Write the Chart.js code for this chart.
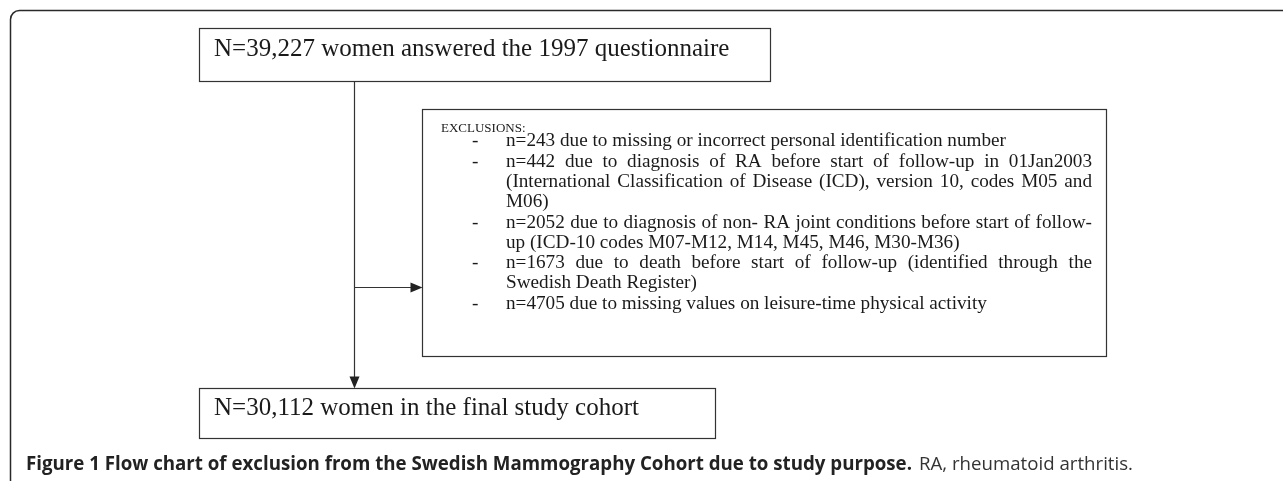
<!DOCTYPE html>
<html>
<head>
<meta charset="utf-8">
<script src="https://cdn.jsdelivr.net/npm/chart.js@4.4.0/dist/chart.umd.min.js"></script>
<style>
html,body{margin:0;padding:0;background:#fff;}
#wrap{width:1283px;height:481px;}
</style>
</head>
<body>
<div id="wrap"><canvas id="c" width="1283" height="481"></canvas></div>
<script>
// ---- data ----
const totals = [39227, 30112];
const totalLabels = ["women answered the 1997 questionnaire", "women in the final study cohort"];
const exclusionHeader = "EXCLUSIONS:";
const exclusionCounts = [243, 442, 2052, 1673, 4705];
const exclusionReasons = [
  ["due to missing or incorrect personal identification number"],
  ["due to diagnosis of RA before start of follow-up in 01Jan2003",
   "(International Classification of Disease (ICD), version 10, codes M05 and",
   "M06)"],
  ["due to diagnosis of non- RA joint conditions before start of follow-",
   "up (ICD-10 codes M07-M12, M14, M45, M46, M30-M36)"],
  ["due to death before start of follow-up (identified through the",
   "Swedish Death Register)"],
  ["due to missing values on leisure-time physical activity"]
];
const captionBold = "Figure 1 Flow chart of exclusion from the Swedish Mammography Cohort due to study purpose.";
const captionRest = "RA, rheumatoid arthritis.";

function fmt(n){ return n.toLocaleString('en-US'); }

// ---- layout (positions in the chart's own coordinate space) ----
const layout = {
  frame: {x0: 10.5, y0: 10.5, x1: 1320, y1: 500, r: 9},
  top:   {x0: 199.5, y0: 28.5, x1: 770.5, y1: 81.5, tx: 214, ty: 56},
  excl:  {x0: 422.5, y0: 109.5, x1: 1106.5, y1: 356.5, hx: 441, hy: 132, dx: 472, tx: 506, tr: 1092},
  bottom:{x0: 199.5, y0: 388.5, x1: 715.5, y1: 438.5, tx: 214, ty: 415},
  trunkX: 354.5, branchY: 287.5,
  lineYs: [146, 167, 187, 207, 228, 248, 268, 288, 309],
  caption: {x: 26, y: 470, boldW: 886, restX: 919, restW: 214}
};

const flowPlugin = {
  id: 'flow',
  afterDraw(chart){
    const ctx = chart.ctx;
    const sx = chart.scales.x, sy = chart.scales.y;
    const X = v => sx.getPixelForValue(v);
    const Y = v => sy.getPixelForValue(v);
    ctx.save();
    // frame
    const f = layout.frame;
    ctx.strokeStyle = '#2a2a2a';
    ctx.lineWidth = 1.5;
    ctx.beginPath();
    ctx.roundRect(X(f.x0), Y(f.y0), X(f.x1)-X(f.x0), Y(f.y1)-Y(f.y0), f.r);
    ctx.stroke();

    ctx.strokeStyle = '#333';
    ctx.lineWidth = 1.2;
    const box = b => { ctx.strokeRect(X(b.x0), Y(b.y0), X(b.x1)-X(b.x0), Y(b.y1)-Y(b.y0)); };
    box(layout.top); box(layout.excl); box(layout.bottom);

    // connectors
    const tx = X(layout.trunkX);
    ctx.beginPath();
    ctx.moveTo(tx, Y(layout.top.y1));
    ctx.lineTo(tx, Y(layout.bottom.y0) - 10);
    ctx.moveTo(tx, Y(layout.branchY));
    ctx.lineTo(X(layout.excl.x0) - 10, Y(layout.branchY));
    ctx.stroke();
    ctx.fillStyle = '#222';
    // down arrow head
    ctx.beginPath();
    ctx.moveTo(tx, Y(layout.bottom.y0));
    ctx.lineTo(tx - 5, Y(layout.bottom.y0) - 12);
    ctx.lineTo(tx + 5, Y(layout.bottom.y0) - 12);
    ctx.closePath(); ctx.fill();
    // right arrow head
    const ax = X(layout.excl.x0), ay = Y(layout.branchY);
    ctx.beginPath();
    ctx.moveTo(ax, ay);
    ctx.lineTo(ax - 12, ay - 5);
    ctx.lineTo(ax - 12, ay + 5);
    ctx.closePath(); ctx.fill();

    // texts
    ctx.fillStyle = '#1a1a1a';
    ctx.textBaseline = 'alphabetic';
    ctx.font = '25px "Liberation Serif", "Times New Roman", serif';
    ctx.fillText('N=' + fmt(totals[0]) + ' ' + totalLabels[0], X(layout.top.tx), Y(layout.top.ty));
    ctx.fillText('N=' + fmt(totals[1]) + ' ' + totalLabels[1], X(layout.bottom.tx), Y(layout.bottom.ty));

    const e = layout.excl;
    ctx.font = '13px "Liberation Serif", "Times New Roman", serif';
    ctx.fillText(exclusionHeader, X(e.hx), Y(e.hy));
    ctx.font = '19.2px "Liberation Serif", "Times New Roman", serif';
    let li = 0;
    exclusionReasons.forEach((lines, i) => {
      lines.forEach((ln, j) => {
        const text = j === 0 ? ('n=' + exclusionCounts[i] + ' ' + ln) : ln;
        const y = Y(layout.lineYs[li]);
        if (j === 0) ctx.fillText('-', X(e.dx), y);
        const justify = j < lines.length - 1;
        const x0 = X(e.tx), x1 = X(e.tr);
        if (justify) {
          const words = text.split(' ');
          const ws = words.map(w => ctx.measureText(w).width);
          const sum = ws.reduce((a,b)=>a+b,0);
          const gap = (x1 - x0 - sum) / (words.length - 1);
          let x = x0;
          words.forEach((w, k) => { ctx.fillText(w, x, y); x += ws[k] + gap; });
        } else {
          ctx.fillText(text, x0, y);
        }
        li++;
      });
    });

    // caption
    const c = layout.caption;
    ctx.fillStyle = '#222';
    ctx.font = 'bold 19px "Open Sans", "DejaVu Sans", sans-serif';
    ctx.fillText(captionBold, X(c.x), Y(c.y), c.boldW);
    ctx.fillStyle = '#333';
    ctx.font = '19px "Open Sans", "DejaVu Sans", sans-serif';
    ctx.fillText(captionRest, X(c.restX), Y(c.y), c.restW);
    ctx.restore();
  }
};

new Chart(document.getElementById('c'), {
  type: 'scatter',
  data: { datasets: [{ data: [], pointRadius: 0 }] },
  options: {
    responsive: false,
    animation: false,
    layout: { padding: 0 },
    plugins: { legend: { display: false }, tooltip: { enabled: false } },
    scales: {
      x: { type: 'linear', min: 0, max: 1283, display: false },
      y: { type: 'linear', min: 0, max: 481, reverse: true, display: false }
    }
  },
  plugins: [flowPlugin]
});
</script>
</body>
</html>
